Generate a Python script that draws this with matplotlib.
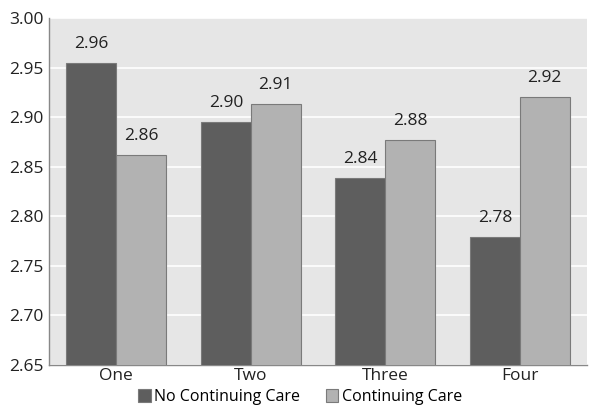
import matplotlib
matplotlib.use("Agg")
import matplotlib.pyplot as plt
import numpy as np

categories = ["One", "Two", "Three", "Four"]
no_cc = [2.955, 2.895, 2.839, 2.779]
cc = [2.862, 2.913, 2.877, 2.920]
no_cc_labels = ["2.96", "2.90", "2.84", "2.78"]
cc_labels = ["2.86", "2.91", "2.88", "2.92"]
yticks = [2.65, 2.70, 2.75, 2.80, 2.85, 2.90, 2.95, 3.00]

plt.rcParams['font.family'] = ['Open Sans', 'DejaVu Sans']

fig = plt.figure(figsize=(6, 4.12), dpi=100)
ax = fig.add_axes([49/600, 1-365/412, (587-49)/600, (365-18)/412])
ax.set_facecolor('#e6e6e6')
x = np.arange(len(categories))
w = 0.37
b1 = ax.bar(x - w/2, no_cc, w, color='#5e5e5e', edgecolor='#7a7a7a', linewidth=0.8,
            label='No Continuing Care', zorder=3)
b2 = ax.bar(x + w/2, cc, w, color='#b2b2b2', edgecolor='#7a7a7a', linewidth=0.8,
            label='Continuing Care', zorder=3)
for rect, lab in zip(b1, no_cc_labels):
    ax.text(rect.get_x() + rect.get_width()/2, rect.get_height() + 0.011, lab,
            ha='center', va='bottom', fontsize=12.5, color='#222222')
for rect, lab in zip(b2, cc_labels):
    ax.text(rect.get_x() + rect.get_width()/2, rect.get_height() + 0.011, lab,
            ha='center', va='bottom', fontsize=12.5, color='#222222')

ax.set_ylim(2.65, 3.00)
ax.set_xlim(-0.5, 3.5)
ax.set_yticks(yticks)
ax.set_yticklabels([f"{v:.2f}" for v in yticks])
ax.set_xticks(x)
ax.set_xticklabels(categories)
ax.grid(axis='y', color='white', linewidth=1.2, zorder=0)
ax.set_axisbelow(True)
ax.tick_params(axis='both', length=0, labelsize=12.5, colors='#222222', pad=4)
ax.tick_params(axis='x', pad=2)
for s in ['top', 'right']:
    ax.spines[s].set_visible(False)
for s in ['left', 'bottom']:
    ax.spines[s].set_color('#888888')
    ax.spines[s].set_linewidth(1)

fig.legend(handles=[b1, b2], loc='center', bbox_to_anchor=(0.5, 1-397/412), ncol=2,
           frameon=False, fontsize=11.5, handlelength=0.8, handleheight=0.8,
           handletextpad=0.2, columnspacing=1.6, borderaxespad=0)

fig.savefig('out.png', dpi=100)
